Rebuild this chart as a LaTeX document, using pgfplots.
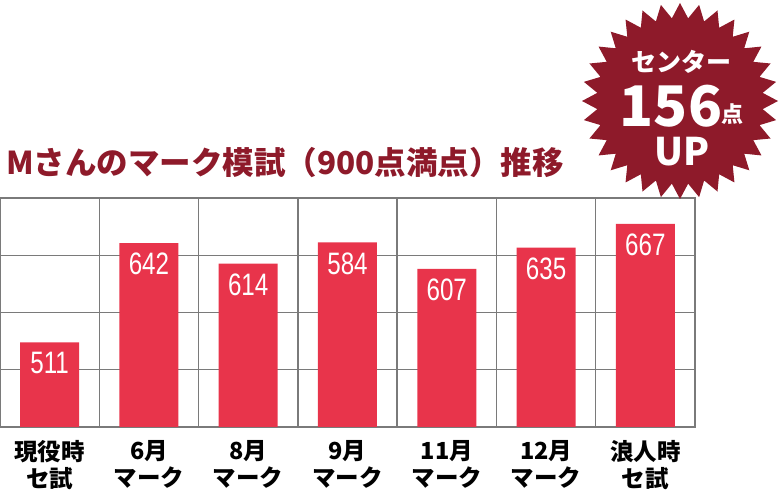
\documentclass[border=0pt]{standalone}
\usepackage{fontspec}
\usepackage{graphicx}
\usepackage{pgfplots}
\pgfplotsset{compat=1.18}
\usetikzlibrary{shapes.geometric}
\newfontfamily\jp{Noto Sans CJK JP}
\newfontfamily\num{Liberation Sans}
\definecolor{barred}{HTML}{E8344B}
\definecolor{darkred}{HTML}{8E1A2A}
\definecolor{gridgray}{HTML}{7A7A7A}

\begin{document}
\begin{tikzpicture}
\useasboundingbox (0pt,0pt) rectangle (780pt,490pt);
\begin{axis}[
    at={(0pt,63pt)}, anchor=south west,
    scale only axis, width=695pt, height=229pt,
    xmin=-0.5, xmax=6.5, ymin=400, ymax=700,
    xtick={0,...,6},
    xticklabels={{現役時\\セ試},{6月\\マーク},{8月\\マーク},{9月\\マーク},{11月\\マーク},{12月\\マーク},{浪人時\\セ試}},
    minor xtick={0.5,1.5,...,5.5},
    xminorgrids=true,
    ytick={475,550,625},
    yticklabels={},
    ymajorgrids=true,
    grid style={gridgray, line width=1.5pt},
    minor grid style={gridgray, line width=1.5pt},
    axis line style={gridgray, line width=1.5pt},
    major tick length=0pt, minor tick length=0pt,
    ybar, bar width=59pt, bar shift=0pt,
    point meta=explicit,
    nodes near coords={\scalebox{0.78}[1]{\pgfmathprintnumber{\pgfplotspointmeta}}},
    every node near coord/.append style={anchor=north, yshift=-10pt, inner sep=0pt, white,
        font=\num\fontsize{31}{31}\selectfont, /pgf/number format/assume math mode=true},
    xticklabel style={font=\jp\bfseries\fontsize{23.5}{27}\selectfont, align=center, yshift=-10pt},
]
% bar heights as drawn; the 9月 bar is drawn at 642 height but labelled 584
\addplot[fill=barred, draw=none] coordinates {
    (0,511)[511] (1,641)[642] (2,614)[614] (3,642)[584]
    (4,607)[607] (5,635)[635] (6,666)[667]
};
\end{axis}

\node[anchor=west, inner sep=0pt, darkred, font=\jp\bfseries\fontsize{31.5}{31.5}\selectfont] at (6pt,327pt) {Mさんのマーク模試（900点満点）推移};

\node[star, star points=32, star point ratio=1.18, minimum size=196pt, inner sep=0pt, fill=darkred, draw=none] at (680pt,389pt) {};
\node[white, font=\jp\bfseries\fontsize{25}{25}\selectfont] at (681pt,428pt) {センター};
\node[white, font=\jp\bfseries\fontsize{56}{56}\selectfont] at (671pt,384pt) {156};
\node[white, font=\jp\bfseries\fontsize{22}{22}\selectfont] at (732pt,376pt) {点};
\node[white, font=\jp\bfseries\fontsize{38}{38}\selectfont] at (682pt,338pt) {UP};
\end{tikzpicture}
\end{document}
